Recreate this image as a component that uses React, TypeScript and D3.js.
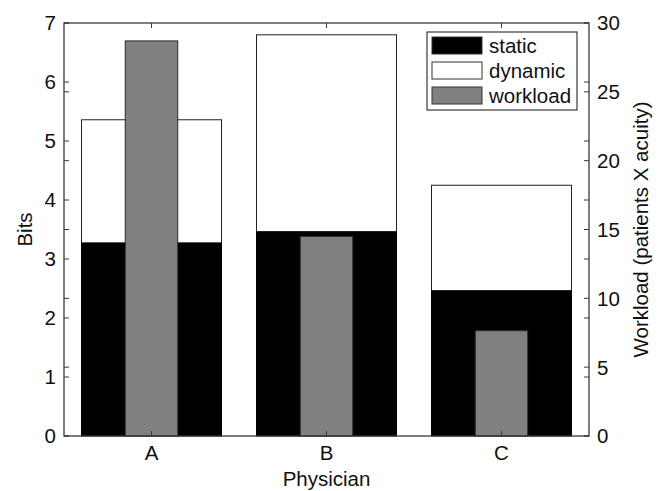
import React from "react";
import * as d3 from "d3";

// Information content per physician (bits) and workload (patients x acuity)
const physicians = ["A", "B", "C"];
const staticBits = [3.27, 3.46, 2.46];
const dynamicBits = [2.09, 3.34, 1.79];
const workload = [28.7, 14.5, 7.65];

const bitsTicks = [0, 1, 2, 3, 4, 5, 6, 7];
const workloadTicks = [0, 5, 10, 15, 20, 25, 30];

const legendItems = [
  { label: "static", fill: "#000000" },
  { label: "dynamic", fill: "#ffffff" },
  { label: "workload", fill: "#808080" },
];

const W = 664;
const H = 491;
const M = { left: 64, right: 75, top: 23, bottom: 55 };
const FONT = "'Liberation Sans', Arial, Helvetica, sans-serif";
const AXIS = "#3a3a3a";
const FS = 20.5;

export default function App() {
  const x0 = M.left;
  const x1 = W - M.right;
  const y0 = H - M.bottom;
  const y1 = M.top;

  const x = d3.scaleLinear().domain([0.5, physicians.length + 0.5]).range([x0, x1]);
  const yBits = d3.scaleLinear().domain([0, 7]).range([y0, y1]);
  const yWork = d3.scaleLinear().domain([0, 30]).range([y0, y1]);

  const step = x(2) - x(1);
  const stackW = step * 0.8;
  const workW = step * 0.3;
  const tick = 5;

  const allTickYs = [
    ...bitsTicks.map((t) => yBits(t)),
    ...workloadTicks.map((t) => yWork(t)),
  ];

  return (
    <svg
      width={W}
      height={H}
      style={{ position: "absolute", left: 0, top: 0, background: "#fff" }}
      fontFamily={FONT}
    >
      {/* stacked static + dynamic bars */}
      {physicians.map((p, i) => {
        const cx = x(i + 1);
        const s = staticBits[i];
        const tot = s + dynamicBits[i];
        return (
          <g key={p}>
            <rect
              x={cx - stackW / 2}
              y={yBits(tot)}
              width={stackW}
              height={yBits(s) - yBits(tot)}
              fill="#fff"
              stroke="#222"
              strokeWidth={1}
            />
            <rect
              x={cx - stackW / 2}
              y={yBits(s)}
              width={stackW}
              height={y0 - yBits(s)}
              fill="#000"
              stroke="#000"
              strokeWidth={1}
            />
          </g>
        );
      })}

      {/* workload bars on the right-hand scale */}
      {physicians.map((p, i) => {
        const cx = x(i + 1);
        return (
          <rect
            key={p}
            x={cx - workW / 2}
            y={yWork(workload[i])}
            width={workW}
            height={y0 - yWork(workload[i])}
            fill="#808080"
            stroke="#2a2a2a"
            strokeWidth={1}
          />
        );
      })}

      {/* plot frame */}
      <rect x={x0} y={y1} width={x1 - x0} height={y0 - y1} fill="none" stroke={AXIS} strokeWidth={1.3} />

      {/* ticks: both axes carry both tick sets, pointing inward */}
      {allTickYs.map((ty, k) => (
        <g key={k} stroke={AXIS} strokeWidth={1}>
          <line x1={x0} x2={x0 + tick} y1={ty} y2={ty} />
          <line x1={x1} x2={x1 - tick} y1={ty} y2={ty} />
        </g>
      ))}
      {physicians.map((p, i) => (
        <g key={p} stroke={AXIS} strokeWidth={1}>
          <line x1={x(i + 1)} x2={x(i + 1)} y1={y0} y2={y0 - tick} />
          <line x1={x(i + 1)} x2={x(i + 1)} y1={y1} y2={y1 + tick} />
        </g>
      ))}

      {/* left tick labels */}
      {bitsTicks.map((t) => (
        <text key={t} x={x0 - 8} y={yBits(t)} dy="0.36em" textAnchor="end" fontSize={FS} fill="#111">
          {t}
        </text>
      ))}
      {/* right tick labels */}
      {workloadTicks.map((t) => (
        <text key={t} x={x1 + 8} y={yWork(t)} dy="0.36em" textAnchor="start" fontSize={FS} fill="#111">
          {t}
        </text>
      ))}
      {/* category labels */}
      {physicians.map((p, i) => (
        <text key={p} x={x(i + 1)} y={y0 + 24} textAnchor="middle" fontSize={FS} fill="#111">
          {p}
        </text>
      ))}

      {/* axis titles */}
      <text x={(x0 + x1) / 2} y={H - 5} textAnchor="middle" fontSize={FS} fill="#111">
        Physician
      </text>
      <text
        transform={`translate(${32},${(y0 + y1) / 2}) rotate(-90)`}
        textAnchor="middle"
        fontSize={FS}
        fill="#111"
      >
        Bits
      </text>
      <text
        transform={`translate(${648},${(y0 + y1) / 2}) rotate(-90)`}
        textAnchor="middle"
        fontSize={FS}
        fill="#111"
      >
        Workload (patients X acuity)
      </text>

      {/* legend */}
      <g transform="translate(427,32)">
        <rect x={0} y={0} width={150} height={78} fill="#fff" stroke={AXIS} strokeWidth={1.2} />
        {legendItems.map((it, k) => (
          <g key={it.label} transform={`translate(5,${5 + k * 25})`}>
            <rect x={0} y={0} width={50} height={17} fill={it.fill} stroke="#333" strokeWidth={1} />
            <text x={57} y={8.5} dy="0.36em" fontSize={FS} fill="#111">
              {it.label}
            </text>
          </g>
        ))}
      </g>
    </svg>
  );
}
